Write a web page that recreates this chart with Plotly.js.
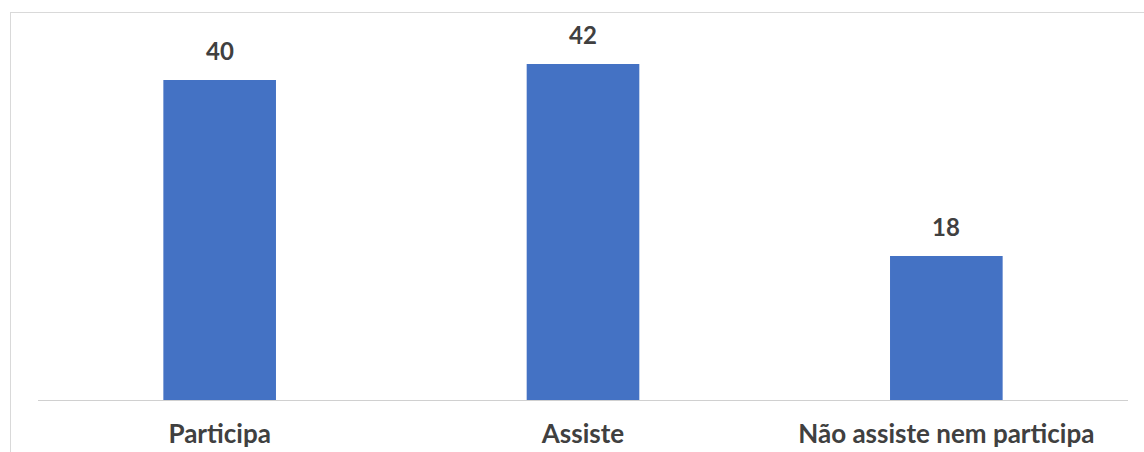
<!DOCTYPE html>
<html>
<head>
<meta charset="utf-8">
<script src="https://cdn.plot.ly/plotly-3.0.1.min.js"></script>
<style>
  html, body { margin: 0; padding: 0; background: #fff; }
  #wrap { position: relative; width: 1144px; height: 452px; overflow: hidden; }
  #frame { position: absolute; left: 10px; top: 12px; width: 1200px; height: 500px;
           border-left: 1px solid #d9d9d9; border-top: 1px solid #d9d9d9; box-sizing: border-box; }
  #chart { position: absolute; left: 0; top: 0; width: 1144px; height: 452px; }
</style>
</head>
<body>
<div id="wrap">
  <div id="frame"></div>
  <div id="chart"></div>
</div>
<script>
const categories = ["Participa", "Assiste", "Não assiste nem participa"];
const values = [40, 42, 18];

const fontFamily = "Lato, 'Open Sans', 'DejaVu Sans', sans-serif";
const textColor = "#404040";

const trace = {
  type: "bar",
  x: categories,
  y: values,
  marker: { color: "#4472C4" },
  hoverinfo: "x+y"
};

const annotations = categories.map((c, i) => ({
  x: c,
  y: values[i],
  xref: "x",
  yref: "y",
  text: String(values[i]),
  showarrow: false,
  yanchor: "bottom",
  yshift: 13,
  font: { family: fontFamily, size: 24, color: textColor, weight: "bold" }
}));

const layout = {
  width: 1144,
  height: 452,
  margin: { l: 38, r: 16, t: 40, b: 52 },
  paper_bgcolor: "rgba(0,0,0,0)",
  plot_bgcolor: "rgba(0,0,0,0)",
  bargap: 0.69,
  showlegend: false,
  xaxis: {
    showline: true,
    linecolor: "#d0d0d0",
    linewidth: 1,
    ticks: "",
    showgrid: false,
    zeroline: false,
    ticklabelstandoff: 11,
    tickfont: { family: fontFamily, size: 26, color: textColor, weight: "bold" }
  },
  yaxis: {
    range: [0, 45],
    visible: false,
    showgrid: false,
    zeroline: false
  },
  annotations: annotations
};

Plotly.newPlot("chart", [trace], layout, { displayModeBar: false, staticPlot: true });
</script>
</body>
</html>
